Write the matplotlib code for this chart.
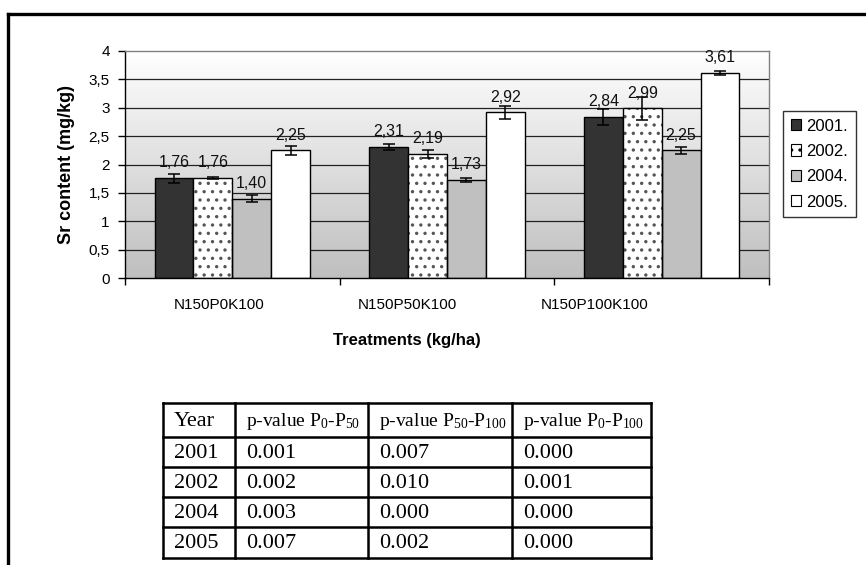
"""Sr content by treatment and year, with the p-value table underneath."""

import matplotlib
matplotlib.use("Agg")
import matplotlib.pyplot as plt
import numpy as np
from matplotlib.colors import LinearSegmentedColormap
from matplotlib.lines import Line2D
from matplotlib.patches import Patch

plt.rcParams["font.family"] = ["Liberation Sans", "DejaVu Sans"]
plt.rcParams["mathtext.fontset"] = "custom"
plt.rcParams["mathtext.rm"] = "Liberation Serif"
plt.rcParams["mathtext.it"] = "Liberation Serif"
plt.rcParams["hatch.linewidth"] = 1.2

# --- data ---------------------------------------------------------------
categories = ["N150P0K100", "N150P50K100", "N150P100K100"]
years = ["2001.", "2002.", "2004.", "2005."]

sr_2001 = [1.76, 2.31, 2.84]
sr_2002 = [1.76, 2.19, 2.99]
sr_2004 = [1.40, 1.73, 2.25]
sr_2005 = [2.25, 2.92, 3.61]

err_2001 = [0.08, 0.05, 0.14]
err_2002 = [0.02, 0.07, 0.20]
err_2004 = [0.055, 0.03, 0.06]
err_2005 = [0.08, 0.11, 0.04]

table_header = ["Year", r"p-value P$_0$-P$_{50}$",
                r"p-value P$_{50}$-P$_{100}$", r"p-value P$_0$-P$_{100}$"]
table_years = ["2001", "2002", "2004", "2005"]
p_0_50 = ["0.001", "0.002", "0.003", "0.007"]
p_50_100 = ["0.007", "0.010", "0.000", "0.002"]
p_0_100 = ["0.000", "0.001", "0.000", "0.000"]

# --- styling ------------------------------------------------------------
FACE = ["#333333", "white", "#c0c0c0", "white"]
HATCH = [None, "..", None, None]
W, H = 866, 565

series = [sr_2001, sr_2002, sr_2004, sr_2005]
errors = [err_2001, err_2002, err_2004, err_2005]

fig = plt.figure(figsize=(W / 100, H / 100), dpi=100)
fig.patch.set_facecolor("white")

# outer frame (top and left edges)
fig.add_artist(Line2D([8 / W, 1], [1 - 14 / H, 1 - 14 / H],
                      transform=fig.transFigure, color="black", lw=2.4))
fig.add_artist(Line2D([8 / W, 8 / W], [0, 1 - 14 / H],
                      transform=fig.transFigure, color="black", lw=2.4))

ax = fig.add_axes([125 / W, 1 - 278 / H, 644 / W, 227 / H])
x = np.arange(len(categories))
ax.set_xlim(-0.5, len(categories) - 0.5)
ax.set_ylim(0, 4)

# white-to-grey plot area fill
cmap = LinearSegmentedColormap.from_list("bg", ["white", "#bfbfbf"])
ax.imshow(np.linspace(1, 0, 256).reshape(-1, 1), cmap=cmap, aspect="auto",
          extent=[-0.5, len(categories) - 0.5, 0, 4], origin="lower",
          zorder=0, interpolation="bilinear")

for yv in np.arange(0.5, 4.0, 0.5):
    ax.axhline(yv, color="#222222", lw=0.9, zorder=1)

bw = 0.181
for i, (vals, errs) in enumerate(zip(series, errors)):
    xs = x + (i - 1.5) * bw
    if HATCH[i]:
        ax.bar(xs, vals, bw, color="white", hatch=HATCH[i],
               edgecolor="#555555", lw=0, zorder=2)
        ax.bar(xs, vals, bw, fill=False, edgecolor="black", lw=1.0, zorder=3)
    else:
        ax.bar(xs, vals, bw, color=FACE[i], edgecolor="black", lw=1.0,
               zorder=2)
    ax.errorbar(xs, vals, yerr=errs, fmt="none", ecolor="black",
                elinewidth=1.1, capsize=4, capthick=1.1, zorder=4)
    for xv, v in zip(xs, vals):
        ax.annotate(f"{v:.2f}".replace(".", ","), (xv, v),
                    xytext=(0, 5.5), textcoords="offset points",
                    ha="center", va="bottom", fontsize=11.5, color="#111111",
                    zorder=5)

ax.set_yticks(np.arange(0, 4.01, 0.5))
ax.set_yticklabels([f"{v:g}".replace(".", ",") for v in np.arange(0, 4.01, 0.5)],
                   fontsize=11)
ax.set_xticks(np.arange(-0.5, len(categories), 1.0))
ax.set_xticklabels([])
ax.tick_params(axis="y", direction="out", length=5, width=1, pad=6)
ax.tick_params(axis="x", direction="out", length=5, width=1)
for side in ("left", "bottom"):
    ax.spines[side].set_color("black")
    ax.spines[side].set_linewidth(1.0)
for side in ("top", "right"):
    ax.spines[side].set_color("#808080")
    ax.spines[side].set_linewidth(1.0)
ax.set_ylabel("Sr content (mg/kg)", fontsize=13, fontweight="bold",
              labelpad=10)

# category names and axis title sit on their own narrower strip
lab = fig.add_axes([125 / W, 1 - 278 / H, 564 / W, 227 / H])
lab.patch.set_visible(False)
for s in lab.spines.values():
    s.set_visible(False)
lab.set_xlim(-0.5, len(categories) - 0.5)
lab.set_yticks([])
lab.set_xticks(x)
lab.set_xticklabels(categories, fontsize=11)
lab.tick_params(axis="x", length=0, pad=14.5)
lab.set_xlabel("Treatments (kg/ha)", fontsize=12, fontweight="bold",
               labelpad=15)

handles = []
for i, yr in enumerate(years):
    if HATCH[i]:
        handles.append(Patch(facecolor="white", edgecolor="black",
                             hatch="..", lw=0.8, label=yr))
    else:
        handles.append(Patch(facecolor=FACE[i], edgecolor="black", lw=0.8,
                             label=yr))
leg = fig.legend(handles=handles, loc="center left",
                 bbox_to_anchor=(783 / W, 1 - 164 / H), fontsize=12,
                 frameon=True, fancybox=False, handlelength=0.65,
                 handleheight=0.65, handletextpad=0.3, labelspacing=0.62,
                 borderpad=0.45, borderaxespad=0)
leg.get_frame().set_edgecolor("black")
leg.get_frame().set_linewidth(1.0)

# p-value table
tab = fig.add_axes([163 / W, 1 - 558 / H, 488 / W, 155 / H])
tab.set_axis_off()
col_w = [72, 133, 144, 139]
row_h = [34, 30, 30, 30, 31]
col_x = np.concatenate([[0], np.cumsum(col_w)])
row_y = np.concatenate([[0], np.cumsum(row_h)])
tab.set_xlim(0, col_x[-1])
tab.set_ylim(row_y[-1], 0)
for cx in col_x:
    tab.plot([cx, cx], [0, row_y[-1]], color="black", lw=1.8,
             solid_capstyle="projecting", clip_on=False)
for ry in row_y:
    tab.plot([0, col_x[-1]], [ry, ry], color="black", lw=1.8,
             solid_capstyle="projecting", clip_on=False)

rows = [table_header] + [list(r) for r in zip(table_years, p_0_50,
                                                p_50_100, p_0_100)]
for r, row in enumerate(rows):
    yc = (row_y[r] + row_y[r + 1]) / 2
    for c, txt in enumerate(row):
        size = 14 if (r == 0 and c > 0) else 16
        tab.text(col_x[c] + 11, yc + 1, txt, ha="left", va="center",
                 fontsize=size, family="Liberation Serif", color="black")

fig.savefig("out.png", dpi=100, facecolor="white")
